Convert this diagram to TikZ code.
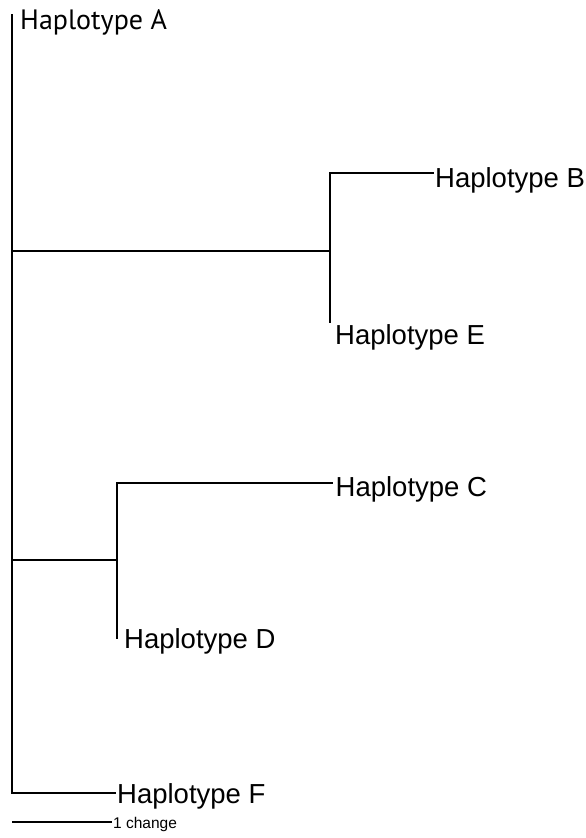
\documentclass[tikz,border=0pt]{standalone}
\usepackage{fontspec}
\setmainfont{Liberation Sans}
\newfontfamily\humanfont{PT Sans}
\begin{document}
\begin{tikzpicture}[x=1pt,y=-1pt,
  branch/.style={line width=1.3pt,line cap=rect},
  taxon/.style={anchor=base west,inner sep=2pt,font=\fontsize{27.5}{30}\selectfont},
  scalelabel/.style={anchor=base west,inner sep=2pt,font=\fontsize{15.5}{17}\selectfont}]
\useasboundingbox[fill=white] (0,0) rectangle (586,838);
% tree coordinates
\coordinate (top) at (12,15);
\coordinate (bot) at (12,793);
\coordinate (j1) at (12,251);
\coordinate (j2) at (12,560);
\coordinate (be) at (330,251);
\coordinate (bt) at (330,173);
\coordinate (eb) at (330,322);
\coordinate (cd) at (117,560);
\coordinate (ct) at (117,483);
\coordinate (db) at (117,638);
\coordinate (s1) at (13,822);
% labels
\node[taxon,font=\humanfont\fontsize{28}{30}\selectfont] (hA) at (18,29) {Haplotype A};
\node[taxon] (hB) at (433,187) {Haplotype B};
\node[taxon] (hE) at (333,344) {Haplotype E};
\node[taxon,inner sep=3.5pt] (hC) at (332,496) {Haplotype C};
\node[taxon] (hD) at (122,648) {Haplotype D};
\node[taxon] (hF) at (115,803) {Haplotype F};
\node[scalelabel] (sc) at (111,828) {1 change};
% branches
\draw[branch] (top) -- (bot) -- (bot -| hF.west);
\draw[branch] (j1) -- (be);
\draw[branch] (eb) -- (bt) -- (bt -| hB.west);
\draw[branch] (j2) -- (cd);
\draw[branch] (db) -- (ct) -- (ct -| hC.west);
\draw[branch] (s1) -- (s1 -| sc.west);
\end{tikzpicture}
\end{document}
